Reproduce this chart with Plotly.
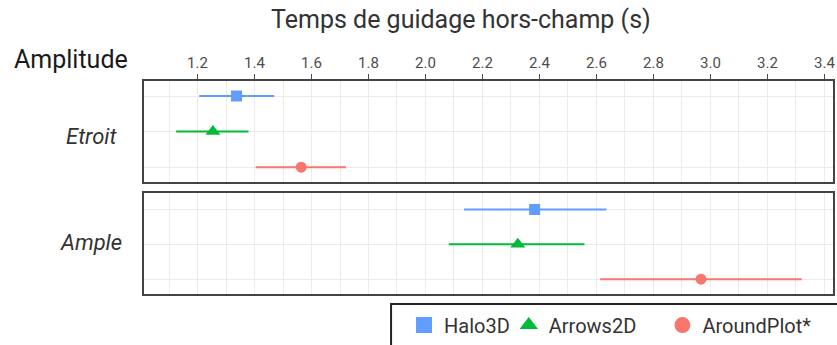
import plotly.graph_objects as go
from plotly.subplots import make_subplots

# Guidance time (s): mean with lower/upper interval bounds
amplitudes = ["Etroit", "Ample"]
techniques = ["Halo3D", "Arrows2D", "AroundPlot*"]

etroit_mean = [1.337, 1.254, 1.564]
etroit_low = [1.206, 1.125, 1.404]
etroit_high = [1.469, 1.379, 1.721]

ample_mean = [2.383, 2.324, 2.967]
ample_low = [2.135, 2.082, 2.613]
ample_high = [2.635, 2.558, 3.320]

tick_vals = [1.2, 1.4, 1.6, 1.8, 2.0, 2.2, 2.4, 2.6, 2.8, 3.0, 3.2, 3.4]
tick_text = ["1.2", "1.4", "1.6", "1.8", "2.0", "2.2", "2.4", "2.6", "2.8", "3.0", "3.2", "3.4"]

colors = ["#619CFF", "#00BA38", "#F8766D"]
symbols = ["square", "triangle-up", "circle"]
sizes = [11, 13, 11]
legend_sizes = [17, 19, 17]
row_pos = [3, 2, 1]

W, H = 837, 345
NARROW = "Liberation Sans Narrow, Arial Narrow, Roboto, sans-serif"

fig = make_subplots(rows=2, cols=1, shared_xaxes=True)

panels = [(etroit_mean, etroit_low, etroit_high), (ample_mean, ample_low, ample_high)]
for r, (means, lows, highs) in enumerate(panels, start=1):
    for i, name in enumerate(techniques):
        fig.add_trace(
            go.Scatter(
                x=[means[i]], y=[row_pos[i]], name=name, mode="markers",
                marker=dict(color=colors[i], symbol=symbols[i], size=sizes[i]),
                error_x=dict(type="data", array=[highs[i] - means[i]],
                             arrayminus=[means[i] - lows[i]],
                             color=colors[i], thickness=2, width=0),
                showlegend=False, legendgroup=name,
            ),
            row=r, col=1,
        )

# one legend per technique so each key sits at its own position
legend_ids = ["legend", "legend2", "legend3"]
legend_x = [405, 510, 664]
for i, name in enumerate(techniques):
    fig.add_trace(
        go.Scatter(
            x=[None], y=[None], name=name, mode="markers",
            marker=dict(color=colors[i], symbol=symbols[i], size=legend_sizes[i]),
            legendgroup=name, showlegend=True, legend=legend_ids[i],
        ),
        row=1, col=1,
    )

x0, x1 = 144 / W, 835 / W
xrange = [1.011, 3.43]
grid_vals = [round(1.1 + 0.1 * k, 1) for k in range(24)]

axis_common = dict(
    range=xrange, domain=[x0, x1], showline=True, mirror=True,
    linecolor="#444444", linewidth=2, zeroline=False,
    showgrid=True, gridcolor="#ebebeb", gridwidth=1,
)
fig.update_xaxes(**axis_common)
fig.update_xaxes(
    row=1, col=1, side="top", showticklabels=True, tickvals=tick_vals, ticktext=tick_text,
    ticks="outside", ticklen=5, tickcolor="#4d4d4d", tickwidth=1.2,
    ticklabeloverflow="allow",
    tickfont=dict(family=NARROW, size=15, color="#4d4d4d"),
    minor=dict(tickvals=grid_vals, showgrid=True, gridcolor="#ebebeb", ticks=""),
)
fig.update_xaxes(
    row=2, col=1, showticklabels=False, tickvals=tick_vals, ticks="",
    minor=dict(tickvals=grid_vals, showgrid=True, gridcolor="#ebebeb", ticks=""),
)

fig.update_yaxes(
    showline=True, mirror=True, linecolor="#444444", linewidth=2, zeroline=False,
    tickvals=[1, 2, 3], showticklabels=False, ticks="",
    showgrid=True, gridcolor="#ebebeb",
)
fig.update_yaxes(row=1, col=1, range=[0.571, 3.429], domain=[1 - 183 / H, 1 - 81 / H])
fig.update_yaxes(row=2, col=1, range=[0.571, 3.457], domain=[1 - 295 / H, 1 - 194 / H])

annotations = [
    dict(text="Temps de guidage hors-champ (s)", x=462 / W, y=1 - 20 / H,
         font=dict(family=NARROW, size=25, color="#333333")),
    dict(text="Amplitude", x=71 / W, y=1 - 60 / H,
         font=dict(family=NARROW, size=25, color="#1a1a1a")),
    dict(text="<i>Etroit</i>", x=92 / W, y=1 - 137 / H,
         font=dict(family=NARROW, size=22, color="#333333")),
    dict(text="<i>Ample</i>", x=91 / W, y=1 - 243 / H,
         font=dict(family=NARROW, size=22, color="#333333")),
]
for a in annotations:
    a.update(xref="paper", yref="paper", showarrow=False, xanchor="center", yanchor="middle")

legend_font = dict(family="Roboto, sans-serif", size=20, color="#333333")
legends = {}
for lid, lx in zip(legend_ids, legend_x):
    legends[lid] = dict(
        orientation="h", x=lx / W, y=1 - 326 / H, xanchor="left", yanchor="middle",
        borderwidth=0, bgcolor="rgba(0,0,0,0)", font=legend_font, itemsizing="trace",
    )

fig.update_layout(
    width=W, height=H, margin=dict(l=0, r=0, t=0, b=0),
    paper_bgcolor="white", plot_bgcolor="white",
    annotations=annotations,
    shapes=[dict(type="rect", xref="paper", yref="paper",
                 x0=392 / W, x1=1.02, y0=-0.05, y1=1 - 305 / H,
                 line=dict(color="#222222", width=2), fillcolor="rgba(0,0,0,0)")],
    **legends,
)

fig.write_html("out.html")
